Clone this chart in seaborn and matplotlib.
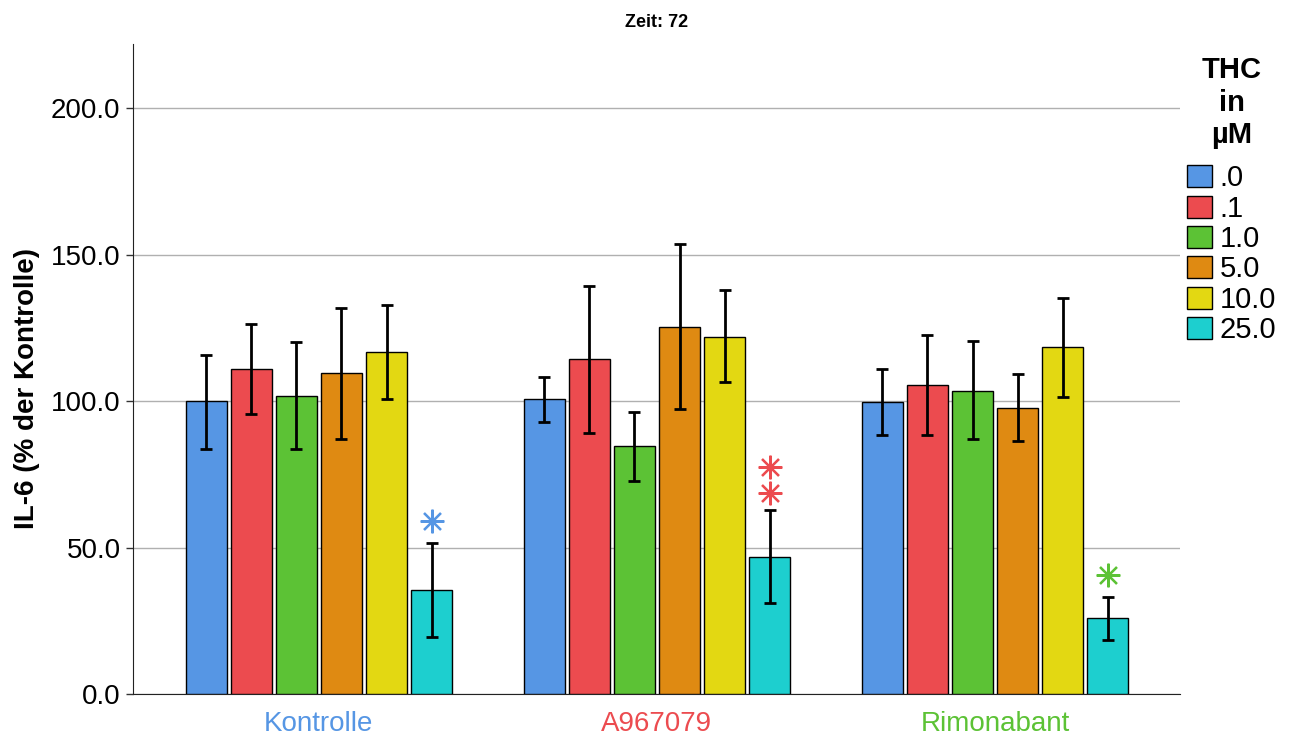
import numpy as np
import pandas as pd
import matplotlib
matplotlib.use('Agg')
import matplotlib.pyplot as plt
import seaborn as sns

# data
groups = ['Kontrolle', 'A967079', 'Rimonabant']
doses = ['.0', '.1', '1.0', '5.0', '10.0', '25.0']
means = {
    'Kontrolle':  [100.0, 110.9, 101.7, 109.6, 116.7, 35.5],
    'A967079':    [100.7, 114.3, 84.6, 125.3, 121.8, 46.8],
    'Rimonabant': [99.7, 105.5, 103.4, 97.6, 118.4, 25.9],
}
err_low = {
    'Kontrolle':  [83.6, 95.6, 83.6, 87.0, 100.7, 19.5],
    'A967079':    [92.8, 89.1, 72.7, 97.3, 106.5, 31.1],
    'Rimonabant': [88.4, 88.4, 87.0, 86.3, 101.4, 18.4],
}
err_high = {
    'Kontrolle':  [115.7, 126.3, 120.1, 131.7, 132.8, 51.5],
    'A967079':    [108.2, 139.2, 96.2, 153.6, 137.9, 62.8],
    'Rimonabant': [110.9, 122.5, 120.5, 109.2, 135.2, 33.1],
}
# significance asterisks (group, y positions)
stars = {
    'Kontrolle': [59.0],
    'A967079': [68.6, 77.5],
    'Rimonabant': [40.6],
}

colors = ['#5696E4', '#EC4B4F', '#5CC235', '#DF8A12', '#E3D812', '#1DCFCF']
group_colors = ['#5696E4', '#EC4B4F', '#5CC235']

rows = []
for g in groups:
    for i, d in enumerate(doses):
        rows.append({'group': g, 'dose': d, 'value': means[g][i],
                     'lo': err_low[g][i], 'hi': err_high[g][i]})
df = pd.DataFrame(rows)

sns.set_style('white')
plt.rcParams['font.family'] = ['Liberation Sans', 'DejaVu Sans']
plt.rcParams['text.color'] = 'black'
plt.rcParams['axes.labelcolor'] = 'black'
plt.rcParams['ytick.color'] = 'black'

fig = plt.figure(figsize=(12.9, 7.37), dpi=100)
ax = fig.add_axes([0.1031, 0.0583, 0.8116, 0.882])

sns.barplot(data=df, x='group', y='value', hue='dose', order=groups,
            hue_order=doses, palette=colors, saturation=1, errorbar=None, width=0.8,
            gap=0.1, edgecolor='black', linewidth=1, ax=ax, zorder=3)
bar_conts = list(ax.containers)

# error bars on top of each bar
for cont, d in zip(bar_conts, doses):
    for patch, g in zip(cont.patches, groups):
        xc = patch.get_x() + patch.get_width() / 2
        r = df[(df.group == g) & (df.dose == d)].iloc[0]
        ax.errorbar(xc, r['value'], yerr=[[r['value'] - r['lo']], [r['hi'] - r['value']]],
                    fmt='none', ecolor='black', elinewidth=2, capsize=4.5, capthick=2, zorder=4)

# asterisks above the 25.0 bars
last = bar_conts[-1]
for patch, g, c in zip(last.patches, groups, group_colors):
    xc = patch.get_x() + patch.get_width() / 2
    for ys in stars[g]:
        ax.plot(xc, ys, marker=(8, 2, 0), markersize=17, markeredgewidth=1.6,
                color=c, linestyle='none', zorder=5)

ax.set_ylim(0, 222)
ax.set_xlim(-0.55, 2.547)
ax.set_yticks([0, 50, 100, 150, 200])
ax.set_yticklabels(['0.0', '50.0', '100.0', '150.0', '200.0'], fontsize=20)
ax.yaxis.grid(True, color='#b0b0b0', linewidth=1)
ax.set_axisbelow(True)
ax.tick_params(axis='y', length=5, width=1, color='#333333', left=True, pad=4)
ax.tick_params(axis='x', length=0, pad=12)
for lbl, c in zip(ax.get_xticklabels(), group_colors):
    lbl.set_color(c)
    lbl.set_fontsize(20)

for s in ['top', 'right']:
    ax.spines[s].set_visible(False)
ax.spines['left'].set_color('#222222')
ax.spines['bottom'].set_color('#222222')

ax.set_xlabel('')
ax.set_ylabel('IL-6 (% der Kontrolle)', fontsize=20, fontweight='bold', labelpad=6)
ax.yaxis.set_label_coords(-0.089, 0.47)
ax.set_title('Zeit: 72', fontsize=13, fontweight='bold', pad=12)

leg = ax.legend(title='THC\nin\nµM', loc='upper left', bbox_to_anchor=(0.996, 0.999),
                frameon=False, fontsize=21, handlelength=0.85, handleheight=0.78,
                handletextpad=0.25, labelspacing=0.08, borderaxespad=0)
leg.get_title().set_fontweight('bold')
leg.get_title().set_fontsize(21)
leg.get_title().set_multialignment('center')
leg._legend_box.sep = 11

plt.savefig('out.png', dpi=100)
